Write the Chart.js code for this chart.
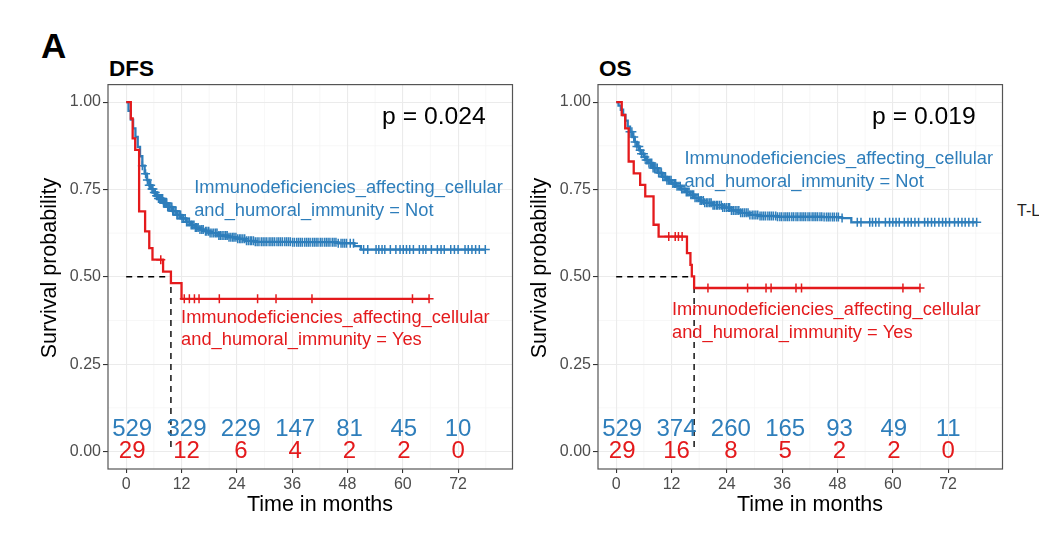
<!DOCTYPE html>
<html>
<head>
<meta charset="utf-8">
<script src="https://cdn.jsdelivr.net/npm/chart.js@4.4.1/dist/chart.umd.min.js"></script>
<style>
  body { margin: 0; background: #fff; width: 1039px; height: 536px; overflow: hidden; position: relative;
         font-family: 'Liberation Sans', Arial, sans-serif; }
  .lbl { position: absolute; line-height: 1; white-space: nowrap; color: #000; }
  canvas { position: absolute; }
</style>
</head>
<body>
<div class="lbl" style="left:41px;top:28px;font-size:35px;font-weight:bold">A</div>
<div class="lbl" style="left:109px;top:58px;font-size:22.5px;font-weight:bold">DFS</div>
<div class="lbl" style="left:599px;top:58px;font-size:22.5px;font-weight:bold">OS</div>
<div class="lbl" style="left:1017px;top:203px;font-size:16px;color:#222">T-L</div>
<canvas id="dfs" width="490" height="457" style="left:30px;top:73px"></canvas>
<canvas id="os" width="490" height="457" style="left:520px;top:73px"></canvas>
<script>
// ---- data ----
const riskTimes = [0, 12, 24, 36, 48, 60, 72];
const yTicks = [0, 0.25, 0.5, 0.75, 1];

// DFS, group "Not"
const dfsNotTime = [0, 0.5, 1, 1.5, 2, 2.5, 3, 3.5, 4, 4.5, 5, 5.5, 6, 6.5, 7, 8, 9, 10, 11, 12, 13, 14, 15, 16, 17, 18, 20, 22, 24, 26, 28, 36, 46, 49.5, 50.9];
const dfsNotSurv = [1, 0.975, 0.95, 0.925, 0.9, 0.872, 0.845, 0.818, 0.795, 0.777, 0.762, 0.751, 0.741, 0.732, 0.724, 0.711, 0.7, 0.688, 0.677, 0.667, 0.657, 0.648, 0.641, 0.635, 0.63, 0.625, 0.618, 0.613, 0.609, 0.603, 0.6, 0.599, 0.596, 0.588, 0.578];
const dfsNotCensor = [3.5, 4.2, 4.6, 5.0, 5.3, 5.6, 5.8, 6.1, 6.3, 6.6, 6.8, 7.0, 7.2, 7.4, 7.6, 7.9, 8.1, 8.3, 8.5, 8.8, 9.0, 9.2, 9.4, 9.7, 9.9, 10.1, 10.3, 10.6, 10.8, 11.0, 11.2, 11.5, 11.8, 12.1, 12.4, 12.8, 13.1, 13.4, 13.7, 14.1, 14.4, 14.7, 15.0, 15.3, 15.6, 16.0, 16.4, 16.7, 17.2, 17.5, 17.9, 18.2, 18.6, 19.0, 19.4, 19.7, 20.1, 20.4, 20.8, 21.2, 21.6, 21.9, 22.3, 22.7, 23.1, 23.4, 23.8, 24.2, 24.6, 24.9, 25.3, 25.7, 26.1, 26.5, 26.9, 27.2, 27.6, 28.0, 28.4, 28.8, 29.3, 29.7, 30.1, 30.5, 31.0, 31.4, 31.8, 32.2, 32.7, 33.1, 33.5, 33.9, 34.4, 34.8, 35.2, 35.6, 36.1, 36.5, 37.0, 37.4, 37.8, 38.2, 38.7, 39.1, 39.5, 39.9, 40.4, 40.8, 41.2, 41.6, 42.1, 42.5, 43.0, 43.4, 43.8, 44.2, 44.7, 45.1, 45.5, 46.0, 46.6, 47.0, 47.4, 47.8, 48.6, 49.3, 51.5, 52.4, 54.2, 54.8, 55.5, 56.1, 57.3, 58.5, 59.4, 60.1, 60.8, 61.5, 62.3, 63.6, 64.4, 65.0, 66.2, 67.5, 68.3, 69.0, 70.4, 71.2, 72.0, 73.5, 74.2, 75.0, 75.8, 76.6, 77.9];
// DFS, group "Yes"
const dfsYesTime = [0, 1.0, 1.4, 1.95, 2.8, 4.1, 5.0, 5.7, 8.0, 9.7, 12.0];
const dfsYesSurv = [1, 0.953, 0.896, 0.863, 0.687, 0.63, 0.582, 0.549, 0.515, 0.482, 0.437];
const dfsYesCensor = [7.5, 12.6, 13.7, 14.8, 15.8, 20.2, 28.5, 32.5, 40.3, 62.1, 65.7];
const dfsRiskNot = [529, 329, 229, 147, 81, 45, 10];
const dfsRiskYes = [29, 12, 6, 4, 2, 2, 0];
const dfsMedianYes = 9.7;
const dfsPValue = 'p = 0.024';

// OS, group "Not"
const osNotTime = [0, 0.5, 1, 1.5, 2, 2.5, 3, 3.5, 4, 4.5, 5, 5.5, 6, 6.5, 7, 8, 9, 10, 11, 12, 13, 14, 15, 16, 17, 18, 19, 21, 23, 25, 27, 29, 31, 35, 45, 49, 51];
const osNotSurv = [1, 0.99, 0.978, 0.963, 0.947, 0.93, 0.915, 0.9, 0.886, 0.873, 0.862, 0.852, 0.843, 0.834, 0.826, 0.811, 0.798, 0.786, 0.776, 0.767, 0.759, 0.751, 0.743, 0.735, 0.726, 0.718, 0.712, 0.705, 0.698, 0.69, 0.683, 0.677, 0.674, 0.672, 0.671, 0.668, 0.656];
const osNotCensor = [3.0, 3.4, 3.8, 4.1, 4.5, 4.9, 5.2, 5.5, 5.9, 6.2, 6.5, 6.8, 7.1, 7.4, 7.7, 8.0, 8.3, 8.6, 8.9, 9.2, 9.5, 9.8, 10.1, 10.4, 10.7, 11.0, 11.3, 11.6, 11.9, 12.3, 12.6, 12.9, 13.2, 13.6, 13.9, 14.2, 14.5, 14.9, 15.2, 15.5, 15.8, 16.2, 16.5, 16.8, 17.1, 17.5, 17.8, 18.2, 18.5, 18.9, 19.2, 19.6, 19.9, 20.3, 20.6, 21.0, 21.3, 21.7, 22.0, 22.4, 22.8, 23.1, 23.5, 23.9, 24.3, 24.6, 25.0, 25.4, 25.8, 26.2, 26.6, 27.0, 27.4, 27.8, 28.2, 28.6, 29.0, 29.5, 29.9, 30.3, 30.7, 31.2, 31.6, 32.0, 32.4, 32.9, 33.3, 33.7, 34.1, 34.6, 35.0, 35.5, 35.9, 36.4, 36.8, 37.2, 37.6, 38.1, 38.5, 39.0, 39.4, 39.9, 40.3, 40.7, 41.1, 41.6, 42.0, 42.5, 42.9, 43.3, 43.7, 44.2, 44.6, 45.1, 45.6, 46.0, 46.4, 46.9, 47.3, 47.8, 48.2, 49.0, 52.3, 53.1, 55.0, 55.6, 56.3, 57.0, 58.4, 59.3, 60.0, 60.7, 61.4, 62.5, 63.3, 64.0, 64.8, 65.6, 66.9, 67.6, 68.4, 69.1, 70.0, 70.8, 71.5, 72.3, 73.4, 74.2, 75.0, 75.7, 76.5, 77.4, 78.2];
// OS, group "Yes"
const osYesTime = [0, 1.2, 1.95, 2.7, 3.8, 5.2, 6.3, 8.1, 9.2, 15.35, 16.1, 16.4, 16.9];
const osYesSurv = [1, 0.963, 0.925, 0.83, 0.796, 0.763, 0.73, 0.649, 0.615, 0.568, 0.534, 0.501, 0.468];
const osYesCensor = [11.4, 12.8, 13.5, 14.3, 19.9, 28.5, 32.5, 33.6, 39.0, 40.2, 62.2, 65.9];
const osRiskNot = [529, 374, 260, 165, 93, 49, 11];
const osRiskYes = [29, 16, 8, 5, 2, 2, 0];
const osMedianYes = 16.9;
const osPValue = 'p = 0.019';

const BLUE = '#2E7EBB';
const RED = '#E41A1C';
const FONT = "'Liberation Sans', Arial, sans-serif";
Chart.defaults.font.family = FONT;

function survAt(times, surv, t) {
  let s = surv[0];
  for (let i = 0; i < times.length; i++) if (times[i] <= t) s = surv[i];
  return s;
}

function stepLine(times, surv, censor) {
  const pts = times.map((t, i) => ({ x: t, y: surv[i] }));
  pts.push({ x: Math.max(...censor), y: surv[surv.length - 1] });
  return pts;
}

function censorPts(times, surv, censor) {
  return censor.map(t => ({ x: t, y: survAt(times, surv, t) }));
}

// minor grid, panel border, texts, numbers at risk and axis titles
const kmDecor = {
  id: 'kmDecor',
  beforeDraw(chart) {
    const { ctx, chartArea: a, scales: { x, y } } = chart;
    ctx.save();
    ctx.strokeStyle = '#f3f3f3';
    ctx.lineWidth = 0.7;
    [6, 18, 30, 42, 54, 66, 78].forEach(v => {
      const px = x.getPixelForValue(v);
      ctx.beginPath(); ctx.moveTo(px, a.top); ctx.lineTo(px, a.bottom); ctx.stroke();
    });
    [0.125, 0.375, 0.625, 0.875].forEach(v => {
      const py = y.getPixelForValue(v);
      ctx.beginPath(); ctx.moveTo(a.left, py); ctx.lineTo(a.right, py); ctx.stroke();
    });
    ctx.restore();
  },
  afterDatasetsDraw(chart, args, opts) {
    const { ctx, scales: { x, y } } = chart;
    ctx.save();
    ctx.textBaseline = 'middle';
    opts.labels.forEach(l => {
      ctx.font = l.size + 'px ' + FONT;
      ctx.fillStyle = l.color;
      ctx.textAlign = 'left';
      ctx.fillText(l.text, x.getPixelForValue(l.x), y.getPixelForValue(l.y));
    });
    ctx.font = '24px ' + FONT;
    ctx.textAlign = 'center';
    riskTimes.forEach((t, i) => {
      const px = x.getPixelForValue(t * 0.982 + 1.3);
      ctx.fillStyle = BLUE;
      ctx.fillText(String(opts.riskNot[i]), px, y.getPixelForValue(0.063));
      ctx.fillStyle = RED;
      ctx.fillText(String(opts.riskYes[i]), px, y.getPixelForValue(0.0));
    });
    ctx.restore();
  },
  afterDraw(chart) {
    const { ctx, chartArea: a } = chart;
    ctx.save();
    ctx.strokeStyle = '#555';
    ctx.lineWidth = 1.2;
    ctx.strokeRect(a.left, a.top, a.right - a.left, a.bottom - a.top);
    ctx.fillStyle = '#000';
    ctx.font = '21.5px ' + FONT;
    ctx.textAlign = 'center';
    ctx.textBaseline = 'middle';
    ctx.fillText('Time in months', 290, 432);
    ctx.translate(20, 195);
    ctx.rotate(-Math.PI / 2);
    ctx.fillText('Survival probability', 0, 0);
    ctx.restore();
  }
};

function makeKM(id, d) {
  new Chart(document.getElementById(id), {
    type: 'scatter',
    data: {
      datasets: [
        { data: censorPts(d.yesTime, d.yesSurv, d.yesCensor), pointStyle: 'cross', pointRadius: 4.5,
          pointBorderWidth: 1.5, borderColor: RED, backgroundColor: RED },
        { data: stepLine(d.yesTime, d.yesSurv, d.yesCensor), showLine: true, stepped: 'before',
          borderColor: RED, borderWidth: 2.3, pointRadius: 0 },
        { data: censorPts(d.notTime, d.notSurv, d.notCensor), pointStyle: 'cross', pointRadius: 4.5,
          pointBorderWidth: 1.5, borderColor: BLUE, backgroundColor: BLUE },
        { data: stepLine(d.notTime, d.notSurv, d.notCensor), showLine: true, stepped: 'before',
          borderColor: BLUE, borderWidth: 2.3, pointRadius: 0 },
        { data: [{ x: 0, y: 0.5 }, { x: d.median, y: 0.5 }, { x: d.median, y: 0 }], showLine: true,
          borderColor: '#000', borderWidth: 1.4, borderDash: [6, 5], pointRadius: 0 }
      ]
    },
    options: {
      responsive: false,
      animation: false,
      events: [],
      layout: { padding: { left: 0, right: 7.5, top: 5, bottom: 5 } },
      scales: {
        x: {
          type: 'linear', min: -3.95, max: 83.8,
          afterBuildTicks: s => { s.ticks = riskTimes.map(v => ({ value: v })); },
          afterFit: s => { s.height = 56; },
          ticks: { font: { size: 16 }, color: '#4d4d4d', padding: 2, maxRotation: 0, autoSkip: false },
          grid: { color: '#ebebeb', lineWidth: 1.1, tickColor: '#333', tickLength: 4 },
          border: { display: false },
          title: { display: false }
        },
        y: {
          min: -0.05, max: 1.05,
          afterBuildTicks: s => { s.ticks = yTicks.map(v => ({ value: v })); },
          afterFit: s => { s.width = 78; },
          ticks: { font: { size: 16 }, color: '#4d4d4d', padding: 2, callback: v => v.toFixed(2) },
          grid: { color: '#ebebeb', lineWidth: 1.1, tickColor: '#333', tickLength: 5 },
          border: { display: false },
          title: { display: false }
        }
      },
      plugins: {
        legend: { display: false },
        tooltip: { enabled: false },
        kmDecor: { labels: d.labels, riskNot: d.riskNot, riskYes: d.riskYes }
      }
    },
    plugins: [kmDecor]
  });
}

makeKM('dfs', {
  notTime: dfsNotTime, notSurv: dfsNotSurv, notCensor: dfsNotCensor,
  yesTime: dfsYesTime, yesSurv: dfsYesSurv, yesCensor: dfsYesCensor,
  riskNot: dfsRiskNot, riskYes: dfsRiskYes, median: dfsMedianYes,
  labels: [
    { text: dfsPValue, x: 55.5, y: 0.957, size: 24.7, color: '#000' },
    { text: 'Immunodeficiencies_affecting_cellular', x: 14.75, y: 0.754, size: 18.3, color: BLUE },
    { text: 'and_humoral_immunity = Not', x: 14.75, y: 0.689, size: 18.3, color: BLUE },
    { text: 'Immunodeficiencies_affecting_cellular', x: 11.9, y: 0.382, size: 18.3, color: RED },
    { text: 'and_humoral_immunity = Yes', x: 11.9, y: 0.32, size: 18.3, color: RED }
  ]
});

makeKM('os', {
  notTime: osNotTime, notSurv: osNotSurv, notCensor: osNotCensor,
  yesTime: osYesTime, yesSurv: osYesSurv, yesCensor: osYesCensor,
  riskNot: osRiskNot, riskYes: osRiskYes, median: osMedianYes,
  labels: [
    { text: osPValue, x: 55.5, y: 0.958, size: 24.7, color: '#000' },
    { text: 'Immunodeficiencies_affecting_cellular', x: 14.8, y: 0.836, size: 18.3, color: BLUE },
    { text: 'and_humoral_immunity = Not', x: 14.8, y: 0.772, size: 18.3, color: BLUE },
    { text: 'Immunodeficiencies_affecting_cellular', x: 12.1, y: 0.406, size: 18.3, color: RED },
    { text: 'and_humoral_immunity = Yes', x: 12.1, y: 0.34, size: 18.3, color: RED }
  ]
});
</script>
</body>
</html>
